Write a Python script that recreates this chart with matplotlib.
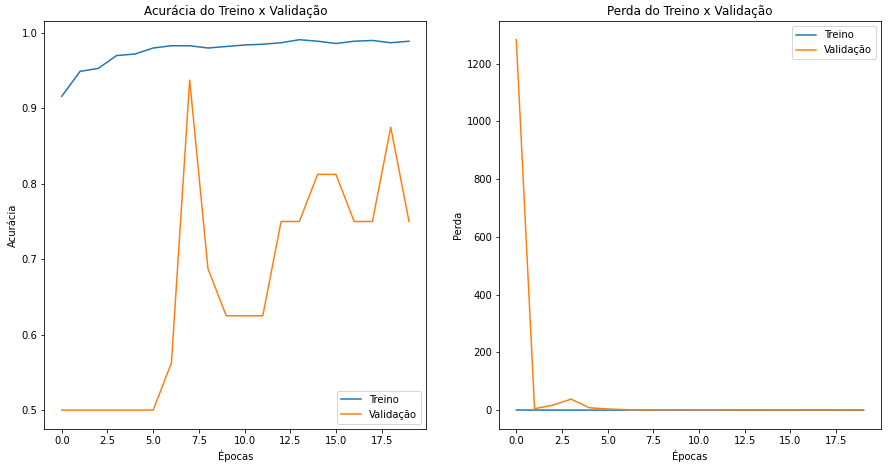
import matplotlib
matplotlib.use("Agg")
import matplotlib.pyplot as plt

epochs = list(range(20))
train_acc = [0.916, 0.949, 0.953, 0.970, 0.972, 0.980, 0.983, 0.983, 0.980, 0.982,
             0.984, 0.985, 0.987, 0.991, 0.989, 0.986, 0.989, 0.990, 0.987, 0.989]
val_acc = [0.5, 0.5, 0.5, 0.5, 0.5, 0.5, 0.5625, 0.9375, 0.6875, 0.625,
           0.625, 0.625, 0.75, 0.75, 0.8125, 0.8125, 0.75, 0.75, 0.875, 0.75]
train_loss = [0.25, 0.15, 0.12, 0.09, 0.08, 0.06, 0.05, 0.05, 0.06, 0.05,
              0.05, 0.04, 0.04, 0.03, 0.03, 0.04, 0.03, 0.03, 0.04, 0.03]
val_loss = [1283, 5, 17, 38, 8, 4, 1.5, 0.5, 1.0, 1.2,
            1.0, 1.0, 0.8, 0.7, 0.6, 0.6, 0.8, 0.8, 0.5, 0.8]

fig, (ax1, ax2) = plt.subplots(1, 2, figsize=(888/72, 471/72), dpi=72)
plt.subplots_adjust(left=0.05, right=0.992, bottom=0.09, top=0.955, wspace=0.19)

ax1.plot(epochs, train_acc, label="Treino")
ax1.plot(epochs, val_acc, label="Validação")
ax1.set_title("Acurácia do Treino x Validação")
ax1.set_xlabel("Épocas")
ax1.set_ylabel("Acurácia")
ax1.legend(loc="lower right")

ax2.plot(epochs, train_loss, label="Treino")
ax2.plot(epochs, val_loss, label="Validação")
ax2.set_title("Perda do Treino x Validação")
ax2.set_xlabel("Épocas")
ax2.set_ylabel("Perda")
ax2.legend(loc="upper right")

fig.savefig("out.png", dpi=72)
